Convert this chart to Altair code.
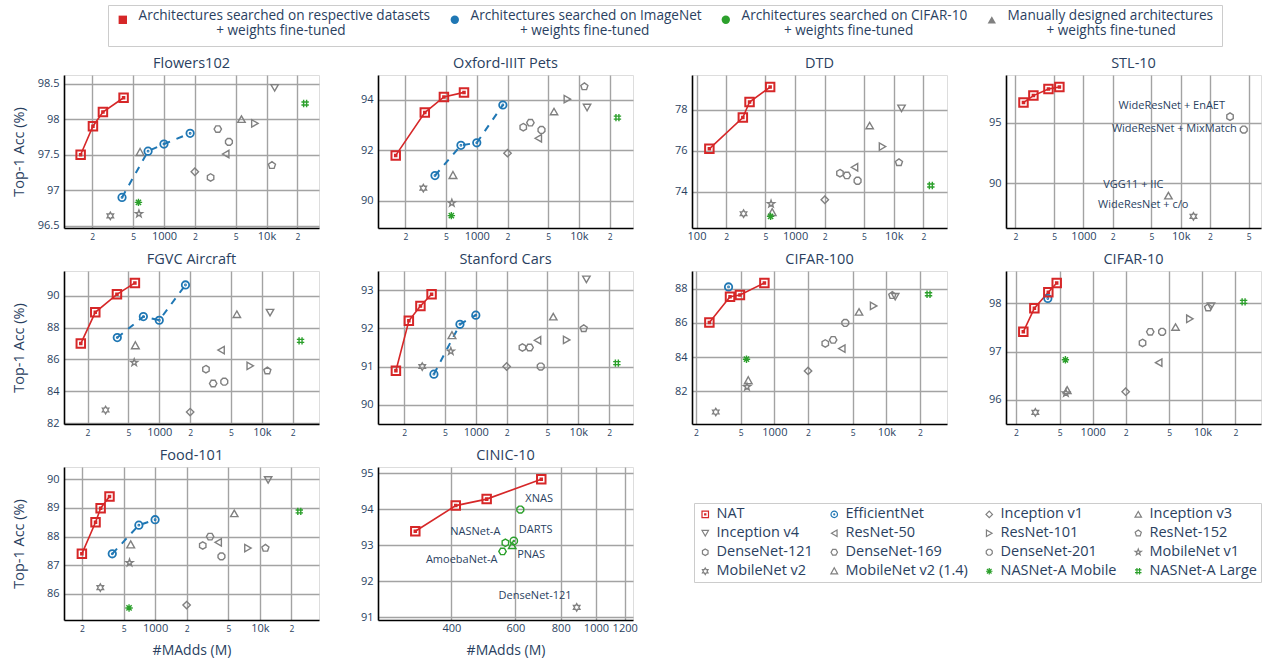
import altair as alt
import pandas as pd

FONT = "Open Sans"
TXT = "#2a3f5f"
RED, BLUE, GREEN, GRAY = "#d62728", "#1f77b4", "#2ca02c", "#808080"
GRID = "#a3a3a3"

# ---------------- legend groups (top legend) ----------------
GROUPS = ["Architectures searched on respective datasets",
          "Architectures searched on ImageNet",
          "Architectures searched on CIFAR-10",
          "Manually designed architectures"]
GROUP_SUB = "+ weights fine-tuned"
GROUP_PAD = [22, 14, 12, 11]

# ---------------- models ----------------
BASELINES = ["Inception v1", "Inception v3", "Inception v4", "ResNet-50", "ResNet-101",
             "ResNet-152", "DenseNet-121", "DenseNet-169", "DenseNet-201", "MobileNet v1",
             "MobileNet v2", "MobileNet v2 (1.4)", "NASNet-A Mobile", "NASNet-A Large"]
BASELINE_MADDS = [2000, 5700, 12000, 4000, 7700, 11300, 2850, 3350, 4300, 570, 300, 585, 564, 23800]
EFFNET_MADDS = [390, 700, 1000, 1800]
MODELS = ["NAT", "EfficientNet"] + BASELINES

# ---------------- data per dataset ----------------
FLOWERS_NAT_MADDS = [154, 203, 254, 404]
FLOWERS_NAT_ACC = [97.5, 97.9, 98.1, 98.3]
FLOWERS_EFF_ACC = [96.9, 97.55, 97.65, 97.8]
FLOWERS_BASE_ACC = [97.26, 98.0, 98.44, 97.51, 97.94, 97.35, 97.18, 97.86, 97.68, 96.67, 96.64, 97.53, 96.83, 98.22]

PETS_NAT_MADDS = [161, 310, 477, 750]
PETS_NAT_ACC = [91.8, 93.5, 94.12, 94.3]
PETS_EFF_ACC = [91.0, 92.2, 92.3, 93.8]
PETS_BASE_ACC = [91.89, 93.54, 93.70, 92.48, 94.03, 94.53, 92.92, 93.10, 92.81, 89.91, 90.50, 91.0, 89.41, 93.30]

DTD_NAT_MADDS = [135, 295, 345, 558]
DTD_NAT_ACC = [76.1, 77.63, 78.39, 79.12]
DTD_EFF_ACC = []
DTD_BASE_ACC = [73.61, 77.24, 78.08, 75.20, 76.21, 75.43, 74.91, 74.80, 74.54, 73.41, 72.93, 72.98, 72.80, 74.31]

STL_NAT_MADDS = [242, 306, 437, 566]
STL_NAT_ACC = [96.65, 97.23, 97.77, 97.94]
STL_EXTRA_NAMES = ["WideResNet + EnAET", "WideResNet + MixMatch", "VGG11 + IIC", "WideResNet + c/o"]
STL_EXTRA_MADDS = [32100, 44400, 7470, 13500]
STL_EXTRA_ACC = [95.49, 94.42, 88.96, 87.25]

FGVC_NAT_MADDS = [172, 238, 387, 579]
FGVC_NAT_ACC = [87.0, 88.97, 90.1, 90.82]
FGVC_EFF_ACC = [87.38, 88.7, 88.47, 90.69]
FGVC_BASE_ACC = [82.69, 88.85, 88.95, 86.59, 85.6, 85.29, 85.39, 84.49, 84.6, 85.81, 82.82, 86.86, None, 87.17]

CARS_NAT_MADDS = [166, 222, 288, 370]
CARS_NAT_ACC = [90.89, 92.2, 92.59, 92.9]
CARS_EFF_ACC = [90.8, 92.11, 92.35]
CARS_BASE_ACC = [91.0, 92.31, 93.29, 91.69, 91.7, 92.0, 91.5, 91.5, 91.0, 91.4, 91.0, 91.81, None, 91.09]

C100_NAT_MADDS = [263, 402, 493, 815]
C100_NAT_ACC = [86.02, 87.53, 87.63, 88.33]
C100_EFF_ACC = [88.1]
C100_BASE_ACC = [83.2, 86.64, 87.53, 84.5, 86.99, 87.61, 84.8, 85.01, 86.0, 82.27, 80.8, 82.62, 83.88, 87.67]

C10_NAT_MADDS = [233, 294, 394, 470]
C10_NAT_ACC = [97.41, 97.9, 98.23, 98.42]
C10_EFF_ACC = [98.1]
C10_BASE_ACC = [96.17, 97.51, 97.94, 96.77, 97.68, 97.91, 97.18, 97.41, 97.41, 96.14, 95.74, 96.19, 96.83, 98.03]

FOOD_NAT_MADDS = [200, 270, 302, 367]
FOOD_NAT_ACC = [87.4, 88.5, 88.99, 89.4]
FOOD_EFF_ACC = [87.4, 88.4, 88.59]
FOOD_BASE_ACC = [85.61, 88.81, 89.98, 87.8, 87.6, 87.6, 87.69, 88.0, 87.31, 87.09, 86.22, 87.71, 85.51, 88.88]

CINIC_NAT_MADDS = [318, 411, 500, 707]
CINIC_NAT_ACC = [93.39, 94.1, 94.28, 94.83]
CINIC_EXTRA_NAMES = ["XNAS", "DARTS", "NASNet-A", "PNAS", "AmoebaNet-A", "DenseNet-121"]
CINIC_EXTRA_MADDS = [619, 594, 563, 588, 553, 885]
CINIC_EXTRA_ACC = [93.99, 93.12, 93.07, 93.0, 92.83, 91.28]

LOG_TICKS = [100, 200, 500, 1000, 2000, 5000, 10000, 20000, 50000]
LOG_LABELS = ["100", "2", "5", "1000", "2", "5", "10k", "2", "5"]
LOG_MAJOR = [100, 1000, 10000]
CINIC_TICKS = [400, 600, 800, 1000, 1200]
CINIC_LABELS = ["400", "600", "800", "1000", "1200"]

# ---------------- marker shapes ----------------
SQUARE_DOT = "M-1,-1H1V1H-1Z M-0.18,-0.18H0.18V0.18H-0.18Z"
CIRCLE_DOT = "M1,0A1,1 0 1 1 -1,0A1,1 0 1 1 1,0Z M0.14,0A0.14,0.14 0 1 1 -0.14,0A0.14,0.14 0 1 1 0.14,0Z"
PENTAGON = "M0,-1L0.951,-0.309L0.588,0.809L-0.588,0.809L-0.951,-0.309Z"
HEXAGON = "M0,-1L0.866,-0.5L0.866,0.5L0,1L-0.866,0.5L-0.866,-0.5Z"
HEXAGON2 = "M-1,0L-0.5,-0.866L0.5,-0.866L1,0L0.5,0.866L-0.5,0.866Z"
OCTAGON = ("M-0.383,-0.924L0.383,-0.924L0.924,-0.383L0.924,0.383L0.383,0.924"
           "L-0.383,0.924L-0.924,0.383L-0.924,-0.383Z")
STAR = ("M0,-1L0.235,-0.324L0.951,-0.309L0.38,0.124L0.588,0.809L0,0.4L-0.588,0.809"
        "L-0.38,0.124L-0.951,-0.309L-0.235,-0.324Z")
HEXAGRAM = ("M0,-1L0.289,-0.5L0.866,-0.5L0.577,0L0.866,0.5L0.289,0.5L0,1L-0.289,0.5"
            "L-0.866,0.5L-0.577,0L-0.866,-0.5L-0.289,-0.5Z")
TRIANGLE_BIG = "M0,-1.1L1.05,0.8L-1.05,0.8Z"
ASTERISK = "M0,-1V1M-1,0H1M-0.707,-0.707L0.707,0.707M-0.707,0.707L0.707,-0.707"
HASH = "M-0.4,-1V1M0.4,-1V1M-1,-0.4H1M-1,0.4H1"

SHAPES = [SQUARE_DOT, CIRCLE_DOT, "diamond", "triangle-up", "triangle-down", "triangle-left",
          "triangle-right", PENTAGON, HEXAGON, HEXAGON2, OCTAGON, STAR, HEXAGRAM, TRIANGLE_BIG,
          ASTERISK, HASH]
COLORS = [RED, BLUE] + [GRAY] * 12 + [GREEN, GREEN]

STL_EXTRA_STYLE = [(HEXAGON, GRAY, "tl"), (OCTAGON, GRAY, "ml"), ("triangle-up", GRAY, "tl"),
                   (HEXAGRAM, GRAY, "tl")]
CINIC_EXTRA_STYLE = [(OCTAGON, GREEN, "tr"), (CIRCLE_DOT, GREEN, "tr"), (HEXAGON, GREEN, "tl"),
                     ("triangle-up", GREEN, "br"), (HEXAGON2, GREEN, "bl"), (HEXAGRAM, GRAY, "tl")]
TEXT_POS = {"tl": ("right", -5, -11), "ml": ("right", -7, -1), "tr": ("left", 5, -11),
            "br": ("left", 5, 10), "bl": ("right", -5, 9)}

MODEL_LEGEND = alt.Legend(
    title=None, orient="none", legendX=630, legendY=428, columns=4, direction="horizontal",
    symbolSize=42, symbolStrokeWidth=1.2, labelFont=FONT, labelFontSize=14.5, labelColor=TXT,
    labelLimit=250, strokeColor="#cccccc", fillColor="white", padding=4, rowPadding=4,
    columnPadding=14, labelOffset=4)


def x_axis(vals, labs, major):
    expr = " : ".join(f"datum.value == {v} ? '{l}'" for v, l in zip(vals, labs)) + " : ''"
    test = " || ".join(f"datum.value == {v}" for v in major) if major else "false"
    return alt.Axis(values=vals, labelExpr=expr,
                    labelFontSize={"condition": {"test": test, "value": 11}, "value": 8.5},
                    labelOverlap=False, labelFlush=False, labelBaseline="middle", labelPadding=8,
                    labelColor=TXT, labelFont=FONT, ticks=False, tickSize=0, grid=True,
                    gridColor=GRID, gridWidth=1.4, domainColor="black", domainWidth=1.6,
                    minExtent=16, maxExtent=16, titleFont=FONT, titleFontSize=14,
                    titleColor=TXT, titleFontWeight="normal", titlePadding=7)


def y_axis(vals):
    return alt.Axis(values=vals, labelExpr="'' + datum.value", labelFontSize=11, labelColor=TXT,
                    labelFont=FONT, labelPadding=5, labelOverlap=False, labelFlush=False,
                    ticks=False, tickSize=0, grid=True, gridColor=GRID, gridWidth=1.4,
                    domainColor="black", domainWidth=1.6, minExtent=30, maxExtent=30,
                    titleFont=FONT, titleFontSize=14.5, titleColor=TXT, titleFontWeight="normal",
                    titlePadding=8)


def panel(title, xdom, ydom, yticks, nat_x, nat_y, eff_y=(), base_y=(), col=0, row=0,
          ticks=LOG_TICKS, labels=LOG_LABELS, major=LOG_MAJOR, extras=None):
    tv = [v for v in ticks if xdom[0] <= v <= xdom[1]]
    tl = [l for v, l in zip(ticks, labels) if xdom[0] <= v <= xdom[1]]
    X = alt.X("x:Q", scale=alt.Scale(type="log", domain=xdom, nice=False),
              axis=x_axis(tv, tl, major), title="#MAdds (M)" if row == 2 else None)
    Y = alt.Y("y:Q", scale=alt.Scale(domain=ydom, nice=False, zero=False),
              axis=y_axis(yticks), title="Top-1 Acc (%)" if col == 0 else None)
    SH = alt.Shape("model:N", scale=alt.Scale(domain=MODELS, range=SHAPES), legend=MODEL_LEGEND)
    CO = alt.Color("model:N", scale=alt.Scale(domain=MODELS, range=COLORS), legend=MODEL_LEGEND)

    nat = pd.DataFrame({"x": nat_x, "y": nat_y, "model": "NAT"})
    layers = [alt.Chart(nat).mark_line(color=RED, strokeWidth=1.6).encode(x=X, y=Y)]
    eff = pd.DataFrame({"x": EFFNET_MADDS[:len(eff_y)], "y": list(eff_y), "model": "EfficientNet"})
    if len(eff) > 1:
        layers.append(alt.Chart(eff).mark_line(color=BLUE, strokeWidth=2, strokeDash=[7, 7])
                      .encode(x=X, y=Y))
    base_rows = [(m, x, y) for m, x, y in zip(BASELINES, BASELINE_MADDS, base_y) if y is not None]
    if base_rows:
        base = pd.DataFrame(base_rows, columns=["model", "x", "y"])
        layers.append(alt.Chart(base).mark_point(filled=False, size=55, strokeWidth=1.4, opacity=1)
                      .encode(x=X, y=Y, shape=SH, color=CO))
    if extras:
        names, xs, ys, styles = extras
        for n, x, y, (shp, clr, pos) in zip(names, xs, ys, styles):
            d = pd.DataFrame({"x": [x], "y": [y], "name": [n]})
            layers.append(alt.Chart(d).mark_point(filled=False, size=55, strokeWidth=1.4, opacity=1)
                          .encode(x=X, y=Y, shape=alt.value(shp), color=alt.value(clr)))
            al, dx, dy = TEXT_POS[pos]
            layers.append(alt.Chart(d).mark_text(align=al, baseline="middle", dx=dx, dy=dy,
                                                 font=FONT, fontSize=11, color=TXT)
                          .encode(x=X, y=Y, text="name:N"))
    if len(eff) > 0:
        layers.append(alt.Chart(eff).mark_point(filled=False, size=55, strokeWidth=1.8, opacity=1)
                      .encode(x=X, y=Y, shape=SH, color=CO))
    layers.append(alt.Chart(nat).mark_point(filled=False, size=72, strokeWidth=2, opacity=1)
                  .encode(x=X, y=Y, shape=SH, color=CO))
    return alt.layer(*layers).properties(
        width=255, height=153,
        title=alt.TitleParams(title, font=FONT, fontSize=14.5, color=TXT, fontWeight="normal",
                              offset=4))


panels = [
    panel("Flowers102", [106, 32500], [96.47, 98.62], [96.5, 97, 97.5, 98, 98.5],
          FLOWERS_NAT_MADDS, FLOWERS_NAT_ACC, FLOWERS_EFF_ACC, FLOWERS_BASE_ACC, 0, 0),
    panel("Oxford-IIIT Pets", [108, 33800], [88.92, 94.99], [90, 92, 94],
          PETS_NAT_MADDS, PETS_NAT_ACC, PETS_EFF_ACC, PETS_BASE_ACC, 1, 0),
    panel("DTD", [90, 34700], [72.23, 79.71], [74, 76, 78],
          DTD_NAT_MADDS, DTD_NAT_ACC, DTD_EFF_ACC, DTD_BASE_ACC, 2, 0),
    panel("STL-10", [160, 66800], [86.29, 98.93], [90, 95],
          STL_NAT_MADDS, STL_NAT_ACC, (), (), 3, 0,
          extras=(STL_EXTRA_NAMES, STL_EXTRA_MADDS, STL_EXTRA_ACC, STL_EXTRA_STYLE)),
    panel("FGVC Aircraft", [118, 36000], [81.94, 91.57], [82, 84, 86, 88, 90],
          FGVC_NAT_MADDS, FGVC_NAT_ACC, FGVC_EFF_ACC, FGVC_BASE_ACC, 0, 1),
    panel("Stanford Cars", [111, 34200], [89.49, 93.51], [90, 91, 92, 93],
          CARS_NAT_MADDS, CARS_NAT_ACC, CARS_EFF_ACC, CARS_BASE_ACC, 1, 1),
    panel("CIFAR-100", [184, 34800], [80.1, 89.03], [82, 84, 86, 88],
          C100_NAT_MADDS, C100_NAT_ACC, C100_EFF_ACC, C100_BASE_ACC, 2, 1),
    panel("CIFAR-10", [162, 34300], [95.5, 98.67], [96, 97, 98],
          C10_NAT_MADDS, C10_NAT_ACC, C10_EFF_ACC, C10_BASE_ACC, 3, 1),
    panel("Food-101", [135, 36700], [85.09, 90.43], [86, 87, 88, 89, 90],
          FOOD_NAT_MADDS, FOOD_NAT_ACC, FOOD_EFF_ACC, FOOD_BASE_ACC, 0, 2),
    panel("CINIC-10", [251, 1265], [90.93, 95.17], [91, 92, 93, 94, 95],
          CINIC_NAT_MADDS, CINIC_NAT_ACC, (), (), 1, 2,
          ticks=CINIC_TICKS, labels=CINIC_LABELS, major=CINIC_TICKS,
          extras=(CINIC_EXTRA_NAMES, CINIC_EXTRA_MADDS, CINIC_EXTRA_ACC, CINIC_EXTRA_STYLE)),
]

grid = alt.concat(*panels, columns=4, spacing={"row": 43, "column": 59}, bounds="flush")

# ---------------- top legend ----------------
SHY = "\u00ad"
NB = "\u00a0"
sub_expr = " : ".join(
    f"datum.label == '{g}' ? '{SHY}{NB * p}{GROUP_SUB}'" for g, p in zip(GROUPS, GROUP_PAD)) + " : ''"
top_expr = f"[datum.label, {sub_expr}]"
TOP_LEGEND = alt.Legend(
    title=None, orient="none", legendX=44, legendY=0, direction="horizontal", columns=4,
    symbolSize=70, symbolOpacity=1, symbolStrokeWidth=0, labelFont=FONT, labelFontSize=13.6,
    labelColor=TXT, labelLimit=400, labelExpr=top_expr, labelBaseline="alphabetic",
    strokeColor="#cccccc", fillColor="white", padding=8, columnPadding=17, labelOffset=9)

top_df = pd.DataFrame({"group": GROUPS})
top = alt.Chart(top_df).mark_point(filled=True, opacity=0).encode(
    shape=alt.Shape("group:N", scale=alt.Scale(domain=GROUPS,
                                               range=["square", "circle", "circle", "triangle-up"]),
                    legend=TOP_LEGEND),
    color=alt.Color("group:N", scale=alt.Scale(domain=GROUPS, range=[RED, BLUE, GREEN, GRAY]),
                    legend=TOP_LEGEND),
).properties(width=1, height=1, view=alt.ViewBackground(stroke="transparent"))

chart = alt.vconcat(top, grid, spacing=69, bounds="flush").resolve_scale(
    shape="independent", color="independent"
).properties(
    padding={"left": 10, "top": 2, "right": 0, "bottom": 0}
).configure_view(stroke="#333333", strokeWidth=1.2).configure(font=FONT)

chart.save("out.html", embed_options={"renderer": "svg", "actions": False})
